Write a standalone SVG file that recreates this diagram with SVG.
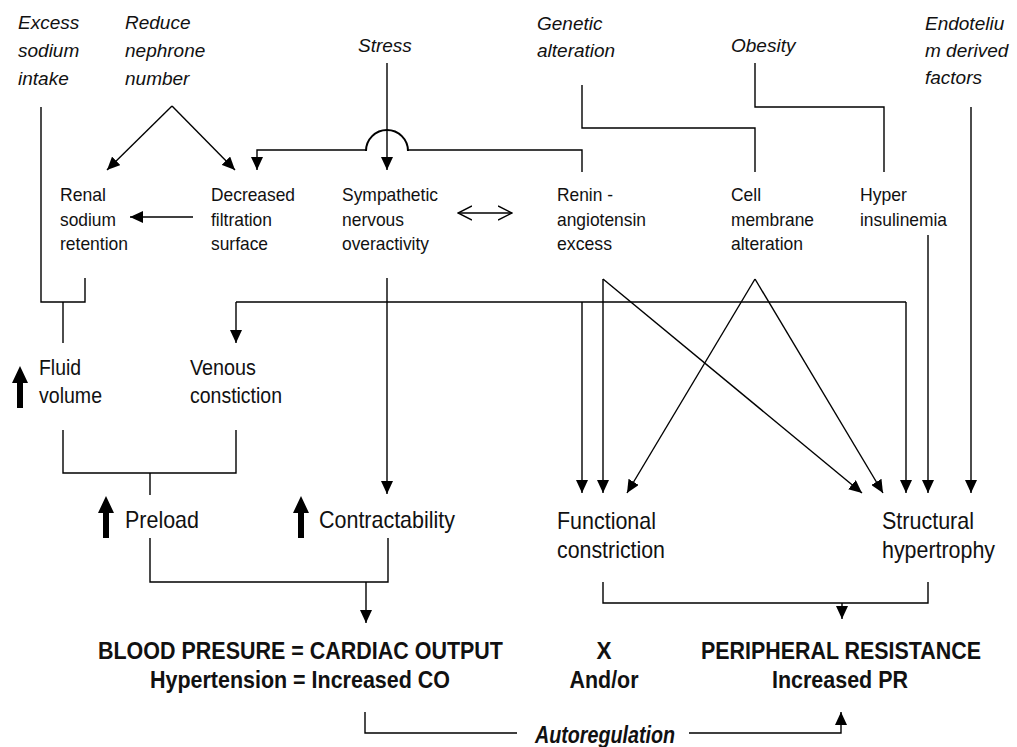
<svg xmlns="http://www.w3.org/2000/svg" xmlns:xlink="http://www.w3.org/1999/xlink" width="1017" height="747" viewBox="0 0 1017 747">
  <style>
    text { font-family: "Liberation Sans", Arial, sans-serif; fill: #111; }
    .cause { font-style: italic; font-size: 19px; }
    .s { font-size: 18.5px; }
    .m { font-size: 21.5px; }
    .l { font-size: 24px; }
    .eq { font-size: 24.5px; font-weight: bold; text-anchor: middle; }
    .auto { font-size: 23px; font-weight: bold; font-style: italic; }
    .ln { fill: none; stroke: #000; stroke-width: 1.4; }
    .arr { marker-end: url(#head); }
    .hop { fill: none; stroke: #000; stroke-width: 2; }
  </style>
  <defs>
    <marker id="head" viewBox="0 0 13 12" refX="13" refY="6" markerWidth="13" markerHeight="12" markerUnits="userSpaceOnUse" orient="auto">
      <path d="M0,0 L13,6 L0,12 Z" fill="#000"/>
    </marker>
    <marker id="open" viewBox="0 0 15 16" refX="14" refY="8" markerWidth="15" markerHeight="16" markerUnits="userSpaceOnUse" orient="auto-start-reverse">
      <path d="M0,1 L14,8 L0,15" fill="none" stroke="#000" stroke-width="1.4"/>
    </marker>
    <path id="up" d="M0,0 L8,17 L3,17 L3,42 L-3,42 L-3,17 L-8,17 Z" fill="#000"/>
  </defs>

  <!-- causes -->
  <g id="excess-sodium">
    <text class="cause" x="18" y="29">Excess</text>
    <text class="cause" x="18" y="57">sodium</text>
    <text class="cause" x="18" y="85">intake</text>
  </g>
  <g id="reduce-nephrone">
    <text class="cause" x="125" y="29">Reduce</text>
    <text class="cause" x="125" y="57">nephrone</text>
    <text class="cause" x="125" y="85">number</text>
  </g>
  <g id="stress">
    <text class="cause" x="358" y="52">Stress</text>
  </g>
  <g id="genetic">
    <text class="cause" x="537" y="30">Genetic</text>
    <text class="cause" x="537" y="57">alteration</text>
  </g>
  <g id="obesity">
    <text class="cause" x="731" y="52">Obesity</text>
  </g>
  <g id="endotelium">
    <text class="cause" x="925" y="30">Endoteliu</text>
    <text class="cause" x="925" y="57">m derived</text>
    <text class="cause" x="925" y="84">factors</text>
  </g>

  <!-- mechanisms -->
  <g id="renal-retention">
    <text class="s" x="60" y="201" textLength="46" lengthAdjust="spacingAndGlyphs">Renal</text>
    <text class="s" x="60" y="226" textLength="56" lengthAdjust="spacingAndGlyphs">sodium</text>
    <text class="s" x="60" y="250" textLength="68" lengthAdjust="spacingAndGlyphs">retention</text>
  </g>
  <g id="decreased-filtration">
    <text class="s" x="211" y="201" textLength="84" lengthAdjust="spacingAndGlyphs">Decreased</text>
    <text class="s" x="211" y="226" textLength="61" lengthAdjust="spacingAndGlyphs">filtration</text>
    <text class="s" x="211" y="250" textLength="57" lengthAdjust="spacingAndGlyphs">surface</text>
  </g>
  <g id="sympathetic">
    <text class="s" x="342" y="201" textLength="96" lengthAdjust="spacingAndGlyphs">Sympathetic</text>
    <text class="s" x="342" y="226" textLength="62" lengthAdjust="spacingAndGlyphs">nervous</text>
    <text class="s" x="342" y="250" textLength="87" lengthAdjust="spacingAndGlyphs">overactivity</text>
  </g>
  <g id="renin">
    <text class="s" x="557" y="201" textLength="56" lengthAdjust="spacingAndGlyphs">Renin -</text>
    <text class="s" x="557" y="226" textLength="89" lengthAdjust="spacingAndGlyphs">angiotensin</text>
    <text class="s" x="557" y="250" textLength="55" lengthAdjust="spacingAndGlyphs">excess</text>
  </g>
  <g id="cell-membrane">
    <text class="s" x="731" y="201" textLength="30" lengthAdjust="spacingAndGlyphs">Cell</text>
    <text class="s" x="731" y="226" textLength="83" lengthAdjust="spacingAndGlyphs">membrane</text>
    <text class="s" x="731" y="250" textLength="72" lengthAdjust="spacingAndGlyphs">alteration</text>
  </g>
  <g id="hyperinsulinemia">
    <text class="s" x="860" y="201" textLength="47" lengthAdjust="spacingAndGlyphs">Hyper</text>
    <text class="s" x="860" y="226" textLength="87" lengthAdjust="spacingAndGlyphs">insulinemia</text>
  </g>

  <!-- intermediate effects -->
  <g id="fluid-volume">
    <use xlink:href="#up" href="#up" x="20" y="366"/>
    <text class="m" x="39" y="375" textLength="42" lengthAdjust="spacingAndGlyphs">Fluid</text>
    <text class="m" x="39" y="403" textLength="63" lengthAdjust="spacingAndGlyphs">volume</text>
  </g>
  <g id="venous-constriction">
    <text class="m" x="190" y="375" textLength="66" lengthAdjust="spacingAndGlyphs">Venous</text>
    <text class="m" x="190" y="403" textLength="92" lengthAdjust="spacingAndGlyphs">constiction</text>
  </g>
  <g id="preload">
    <use xlink:href="#up" href="#up" x="106" y="496"/>
    <text class="l" x="125" y="528" textLength="74" lengthAdjust="spacingAndGlyphs">Preload</text>
  </g>
  <g id="contractability">
    <use xlink:href="#up" href="#up" x="301" y="496"/>
    <text class="l" x="319" y="528" textLength="136" lengthAdjust="spacingAndGlyphs">Contractability</text>
  </g>
  <g id="functional-constriction">
    <text class="l" x="557" y="529" textLength="99" lengthAdjust="spacingAndGlyphs">Functional</text>
    <text class="l" x="557" y="558" textLength="108" lengthAdjust="spacingAndGlyphs">constriction</text>
  </g>
  <g id="structural-hypertrophy">
    <text class="l" x="882" y="529" textLength="92" lengthAdjust="spacingAndGlyphs">Structural</text>
    <text class="l" x="882" y="558" textLength="113" lengthAdjust="spacingAndGlyphs">hypertrophy</text>
  </g>

  <!-- equation -->
  <g id="cardiac-output">
    <text class="eq" x="300.5" y="659" textLength="405" lengthAdjust="spacingAndGlyphs">BLOOD PRESURE = CARDIAC OUTPUT</text>
    <text class="eq" x="300" y="688" textLength="300" lengthAdjust="spacingAndGlyphs">Hypertension = Increased CO</text>
  </g>
  <g id="operator">
    <text class="eq" x="604" y="659" textLength="15" lengthAdjust="spacingAndGlyphs">X</text>
    <text class="eq" x="604" y="688" textLength="69" lengthAdjust="spacingAndGlyphs">And/or</text>
  </g>
  <g id="peripheral-resistance">
    <text class="eq" x="841" y="659" style="font-size:23.5px" textLength="280" lengthAdjust="spacingAndGlyphs">PERIPHERAL RESISTANCE</text>
    <text class="eq" x="840" y="688" textLength="136" lengthAdjust="spacingAndGlyphs">Increased PR</text>
  </g>
  <g id="autoregulation">
    <text class="auto" x="535" y="743" textLength="140" lengthAdjust="spacingAndGlyphs">Autoregulation</text>
  </g>

  <!-- connectors -->
  <g id="connectors">
    <path class="ln arr" d="M172,106 L107,170"/>
    <path class="ln arr" d="M172,106 L235,170"/>
    <path class="ln arr" d="M193,217 H130"/>
    <path class="ln arr" d="M387,63 V170"/>
    <path class="ln" d="M582,172 V150 H408"/>
    <path class="hop" d="M408,151 A21,21 0 0 0 366,151"/>
    <path class="ln arr" d="M366,150 H257 V170"/>
    <path class="ln" d="M582,85 V128 H755 V172"/>
    <path class="ln" d="M755,63 V107 H884 V172"/>
    <path class="ln" d="M41,107 V302 H85 V278"/>
    <path class="ln" d="M63,302 V343"/>
    <path class="ln" d="M458,213 H512" marker-start="url(#open)" marker-end="url(#open)"/>
    <path class="ln arr" d="M387,278 V494"/>
    <path class="ln" d="M236,302 H906"/>
    <path class="ln arr" d="M236,302 V343"/>
    <path class="ln arr" d="M582,302 V493"/>
    <path class="ln arr" d="M906,302 V493"/>
    <path class="ln arr" d="M603,279 V493"/>
    <path class="ln arr" d="M603,279 L862,493"/>
    <path class="ln arr" d="M755,279 L627,493"/>
    <path class="ln arr" d="M755,279 L883,493"/>
    <path class="ln arr" d="M928,235 V493"/>
    <path class="ln arr" d="M971,107 V493"/>
    <path class="ln" d="M63,430 V473 H236 V430"/>
    <path class="ln" d="M150,473 V495"/>
    <path class="ln" d="M150,538 V582 H388 V538"/>
    <path class="ln arr" d="M366,582 V623"/>
    <path class="ln" d="M603,582 V603 H928 V582"/>
    <path class="ln arr" d="M842,603 V619"/>
    <path class="ln" d="M365,712 V733 H517"/>
    <path class="ln arr" d="M689,733 H841 V712"/>
  </g>
</svg>
